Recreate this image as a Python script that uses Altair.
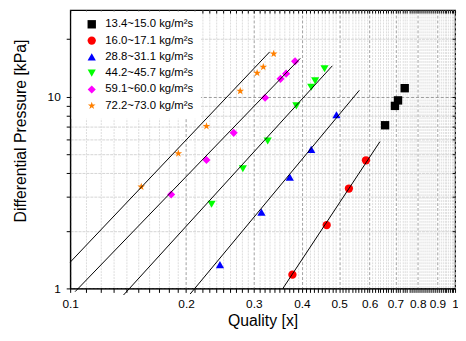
import altair as alt
import pandas as pd

# ---------------- data ----------------
series = [
    "13.4~15.0 kg/m²s",
    "16.0~17.1 kg/m²s",
    "\u00a028.8~31.1 kg/m²s",
    "\u00a044.2~45.7 kg/m²s",
    "\u00a059.1~60.0 kg/m²s",
    "\u00a072.2~73.0 kg/m²s",
]
colors = ["#000000", "#ff0000", "#0000ff", "#00ff00", "#ff00ff", "#ff8000"]
STAR = ("M0,-1L0.235,-0.324L0.951,-0.309L0.380,0.124L0.588,0.809L0,0.4"
        "L-0.588,0.809L-0.380,0.124L-0.951,-0.309L-0.235,-0.324Z")
shapes = ["square", "circle", "triangle-up", "triangle-down", "diamond", STAR]
sizes = [72, 66, 100, 100, 85, 150]

q_s1 = [0.658, 0.698, 0.711, 0.740]
dp_s1 = [7.10, 8.96, 9.57, 11.08]
q_s2 = [0.378, 0.464, 0.530, 0.587]
dp_s2 = [1.18, 2.14, 3.32, 4.66]
q_s3 = [0.245, 0.314, 0.372, 0.423, 0.492]
dp_s3 = [1.33, 2.50, 3.81, 5.31, 8.06]
q_s4 = [0.233, 0.281, 0.326, 0.387, 0.423, 0.433, 0.458]
dp_s4 = [2.75, 4.21, 5.88, 8.96, 11.2, 12.1, 14.0]
q_s5 = [0.183, 0.226, 0.266, 0.321, 0.352, 0.364, 0.384]
dp_s5 = [3.09, 4.68, 6.48, 9.88, 12.4, 13.2, 15.3]
q_s6 = [0.153, 0.191, 0.226, 0.2766, 0.306, 0.3175, 0.338]
dp_s6 = [3.39, 5.06, 7.02, 10.7, 13.3, 14.3, 16.75]

# fitted lines (series 2..6): start and end points
fit_series = series[1:]
fit_x0 = [0.357, 0.205, 0.1376, 0.103, 0.100]
fit_y0 = [1.00, 0.935, 0.924, 0.962, 1.37]
fit_x1 = [0.638, 0.564, 0.480, 0.396, 0.330]
fit_y1 = [5.83, 10.8, 14.5, 15.85, 17.15]

x_ticks = [round(0.1 + 0.01 * i, 2) for i in range(91)]
y_ticks = [1, 2, 3, 4, 5, 6, 7, 8, 9, 10, 20]

# ---------------- tables ----------------
rows = []
for s, qs, ds in zip(series, [q_s1, q_s2, q_s3, q_s4, q_s5, q_s6],
                     [dp_s1, dp_s2, dp_s3, dp_s4, dp_s5, dp_s6]):
    for q, d in zip(qs, ds):
        rows.append({"series": s, "q": q, "dp": d})
df_pts = pd.DataFrame(rows)

lrows = []
for s, a, b, c, d in zip(fit_series, fit_x0, fit_y0, fit_x1, fit_y1):
    lrows.append({"series": s, "q": a, "dp": b})
    lrows.append({"series": s, "q": c, "dp": d})
df_lines = pd.DataFrame(lrows)

FONT = "Liberation Sans"
MAJOR_X = "abs(datum.value*10 - round(datum.value*10)) < 0.000001"
MAJOR_Y = "datum.value == 10"

xscale = alt.Scale(type="log", domain=[0.1, 1], nice=False)
yscale = alt.Scale(type="log", domain=[1, 28.3], nice=False)

legend = alt.Legend(
    title=None, orient="none", legendX=1.5, legendY=1, padding=7.6,
    fillColor="white", symbolOffset=7, labelOffset=8, rowPadding=3.5,
    labelFont=FONT, labelFontSize=11.5, labelColor="black", labelLimit=250,
    symbolSize=85, symbolStrokeWidth=0,
)

pts = alt.Chart(df_pts).mark_point(filled=True, opacity=1, strokeWidth=0).encode(
    x=alt.X("q:Q", scale=xscale, axis=alt.Axis(
        values=x_ticks, title="Quality [x]",
        labelExpr=MAJOR_X + " ? format(datum.value, '.1~f') : ''",
        labelOverlap=False, labelFlush=False, labelFontSize=12, labelPadding=6,
        tickSize=4, grid=True,
        gridColor={"condition": {"test": MAJOR_X, "value": "#a0a0a0"}, "value": "#dcdcdc"},
        gridDash={"condition": {"test": MAJOR_X, "value": [3, 2]}, "value": [2, 1]},
        titleFontSize=16, titleY=38, titleBaseline="alphabetic",
    )),
    y=alt.Y("dp:Q", scale=yscale, axis=alt.Axis(
        values=y_ticks, title="Differential Pressure [kPa]",
        labelExpr="datum.value == 1 || datum.value == 10 ? format(datum.value, 'd') : ''",
        labelOverlap=False, labelFlush=False, labelFontSize=12, labelPadding=6,
        tickSize=4, grid=True,
        gridColor={"condition": {"test": MAJOR_Y, "value": "#9a9a9a"}, "value": "#d4d4d4"},
        gridDash={"condition": {"test": MAJOR_Y, "value": [3, 2]}, "value": [3, 1]},
        titleFontSize=16, titleX=-45, titleY=122, titleBaseline="alphabetic",
    )),
    color=alt.Color("series:N", scale=alt.Scale(domain=series, range=colors), legend=legend),
    shape=alt.Shape("series:N", scale=alt.Scale(domain=series, range=shapes), legend=legend),
    size=alt.Size("series:N", scale=alt.Scale(domain=series, range=sizes), legend=None),
)

lines = alt.Chart(df_lines).mark_line(color="black", strokeWidth=1).encode(
    x=alt.X("q:Q", scale=xscale, axis=alt.Axis(
        orient="top", values=x_ticks, labels=False, domain=False, grid=False,
        tickSize={"expr": "-3"}, title=None)),
    y=alt.Y("dp:Q", scale=yscale, axis=alt.Axis(
        orient="right", values=y_ticks, labels=False, domain=False, grid=False,
        tickSize={"expr": "-3"}, title=None)),
    detail="series:N",
)

chart = alt.layer(pts, lines).resolve_axis(
    x="independent", y="independent"
).properties(
    width=390, height=282,
    autosize=alt.AutoSizeParams(type="none"),
    padding={"left": 63, "top": 0, "right": 3, "bottom": 43},
).configure_view(
    stroke="black", strokeWidth=1.2
).configure_axis(
    labelFont=FONT, titleFont=FONT, labelColor="black", titleColor="black",
    titleFontWeight="normal", domainColor="black", domainWidth=1.2,
    tickColor="black", tickWidth=1, gridWidth=1,
)

chart.save("out.html", embed_options={"renderer": "svg", "actions": False})
